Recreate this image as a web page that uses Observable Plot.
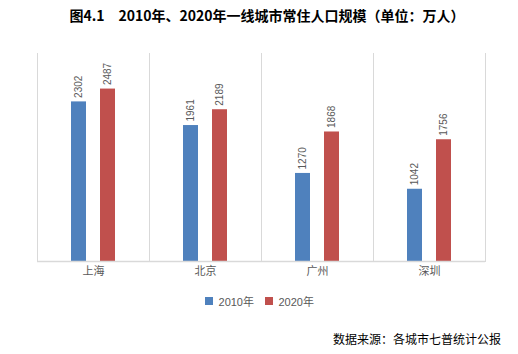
<!DOCTYPE html>
<html>
<head>
<meta charset="utf-8">
<script src="https://cdn.jsdelivr.net/npm/d3@7"></script>
<script src="https://cdn.jsdelivr.net/npm/@observablehq/plot@0.6"></script>
<style>
  html, body { margin: 0; padding: 0; background: #fff; }
  #wrap { width: 518px; height: 354px; position: relative; overflow: hidden; }
  #title { height: 40px; line-height: 30px; text-align: center; padding-left: 16px; box-sizing: border-box;
    font-family: "Noto Sans CJK SC", sans-serif; font-weight: bold; font-size: 14px; color: #000; }
  #legend { display: flex; justify-content: center; height: 22px; align-items: center; padding-top: 3px; padding-left: 12px; }
  #caption { position: absolute; right: 17px; top: 330px; font-family: "Noto Sans CJK SC", sans-serif;
    font-size: 12px; color: #000; }
</style>
</head>
<body>
<div id="wrap">
  <div id="title">图4.1　2010年、2020年一线城市常住人口规模（单位：万人）</div>
  <div id="chart"></div>
  <div id="legend"></div>
  <div id="caption">数据来源：各城市七普统计公报</div>
</div>
<script>
const cities = ["上海", "北京", "广州", "深圳"];
const years = ["2010年", "2020年"];
const values2010 = [2302, 1961, 1270, 1042];
const values2020 = [2487, 2189, 1868, 1756];
const colors = ["#4F81BD", "#C0504D"];

const data = cities.flatMap((c, i) => [
  {city: c, year: years[0], value: values2010[i]},
  {city: c, year: years[1], value: values2020[i]}
]);

const chart = Plot.plot({
  width: 518,
  height: 250,
  marginTop: 13,
  marginBottom: 29,
  marginLeft: 35,
  marginRight: 32,
  style: {fontFamily: "'Noto Sans CJK SC', sans-serif", fontSize: "11px", color: "#595959", background: "#fff"},
  fx: {domain: cities, padding: 0, label: null, tickSize: 0, tickPadding: 6, axis: "bottom"},
  x: {domain: years, paddingInner: 0.475, paddingOuter: 1.15, axis: null},
  y: {domain: [0, 3000], axis: null},
  color: {domain: years, range: colors},
  marks: [
    Plot.frame({anchor: "left", stroke: "#d9d9d9"}),
    Plot.frame({anchor: "right", stroke: "#d9d9d9"}),
    Plot.barY(data, {fx: "city", x: "year", y: "value", fill: "year"}),
    Plot.ruleY([0], {stroke: "#d9d9d9", strokeWidth: 1.5}),
    Plot.text(data, {fx: "city", x: "year", y: "value", text: d => String(d.value),
      rotate: -90, textAnchor: "start", dy: -4, fill: "#595959", fontSize: 10,
      fontFamily: "'Liberation Sans', sans-serif"})
  ]
});
document.getElementById("chart").appendChild(chart);

const legend = Plot.legend({
  color: {domain: years, range: colors},
  swatchSize: 8,
  style: {fontFamily: "'Liberation Sans', 'Noto Sans CJK SC', sans-serif", fontSize: "11px", color: "#595959"}
});
document.getElementById("legend").appendChild(legend);
</script>
</body>
</html>
